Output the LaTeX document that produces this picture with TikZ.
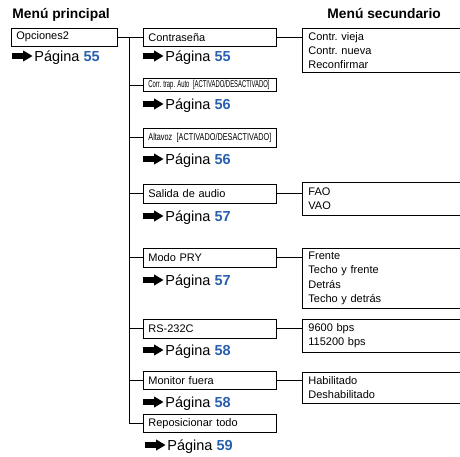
\documentclass[tikz,border=0pt]{standalone}
\usepackage{fontspec}
\setmainfont{Liberation Sans}
\usepackage{graphicx}
\frenchspacing
\definecolor{pgblue}{RGB}{40,95,175}
\tikzset{
  pgarrow/.pic={\fill (0,-2.8) -- (11,-2.8) -- (11,-5.6) -- (20.5,0) -- (11,5.6) -- (11,2.8) -- (0,2.8) -- cycle;}
}
% arrow + page reference: \pagref(name)(x,y){page}
\def\pagref(#1)(#2,#3)#4{%
  \pic at (#2,#3) {pgarrow};
  \node[pgref] (#1) at ({#2+22},{#3+5}) {Página \textcolor{pgblue}{\textbf{#4}}};}
\def\narrow#1#2{\scalebox{#1}[1]{\fontsize{10}{10}\selectfont #2}}

\begin{document}
\begin{tikzpicture}[x=1pt,y=-1pt,line width=0.8pt,
    title/.style={font=\fontsize{13.8}{16}\selectfont\bfseries,anchor=base west,inner sep=0},
    mainbox/.style={draw,anchor=north west,text width=123pt,inner xsep=5pt,inner ysep=0pt,
      minimum height=18.5,align=left,font=\fontsize{11}{13}\selectfont},
    secbox/.style={draw,anchor=north west,text width=160pt,inner xsep=6pt,inner ysep=0pt,
      align=left,font=\fontsize{11}{14.3}\selectfont},
    pgref/.style={anchor=base west,inner sep=0,font=\fontsize{14.5}{17}\selectfont}]
  \useasboundingbox (0,0) rectangle (460,456);

  %%%%% headings %%%%%
  \node[title] (hmain) at (12,18.3) {Menú principal};
  \node[title] (hsec) at (327,18) {Menú secundario};

  %%%%% main menu %%%%%
  \node[mainbox,text width=96pt,minimum height=17.5] (opc) at (11,28) {Opciones2};
  \pagref(popc)(12,56){55}

  %%%%% items %%%%%
  \node[mainbox,minimum height=17.5] (b1) at (143,28) {Contraseña};
  \pagref(p1)(143,56){55}
  \node[mainbox,minimum height=13] (b2) at (143,78) {\narrow{0.59}{Corr. trap. Auto\hspace{0.6em}[ACTIVADO/DESACTIVADO]}};
  \pagref(p2)(143,104){56}
  \node[mainbox] (b3) at (143,128) {\narrow{0.73}{Altavoz\hspace{0.6em}[ACTIVADO/DESACTIVADO]}};
  \pagref(p3)(143,159){56}
  \node[mainbox] (b4) at (143,184) {Salida de audio};
  \pagref(p4)(143,216){57}
  \node[mainbox] (b5) at (143,248) {Modo PRY};
  \pagref(p5)(143,280){57}
  \node[mainbox] (b6) at (143,319) {RS-232C};
  \pagref(p6)(143,350){58}
  \node[mainbox,minimum height=18] (b7) at (143,371) {Monitor fuera};
  \pagref(p7)(143,402){58}
  \node[mainbox,minimum height=18] (b8) at (143,414) {Reposicionar todo};
  \pagref(p8)(145,445){59}

  %%%%% secondary menus %%%%%
  \node[secbox,minimum height=44] (s1) at (302,28) {Contr. vieja\\Contr. nueva\\Reconfirmar};
  \node[secbox,minimum height=33] (s4) at (302,182) {FAO\\VAO};
  \node[secbox,minimum height=60] (s5) at (302,248) {Frente\\Techo y frente\\Detrás\\Techo y detrás};
  \node[secbox,minimum height=33] (s6) at (302,319) {9600 bps\\115200 bps};
  \node[secbox,minimum height=31] (s7) at (302,372) {Habilitado\\Deshabilitado};

  %%%%% tree lines %%%%%
  \coordinate (tr) at (129,0);
  \draw (opc.east) -- (b1.west);
  \draw (b1.west -| tr) |- (b8.west);
  \foreach \b in {b2,b3,b4,b5,b6,b7}
    \draw (\b.west -| tr) -- (\b.west);
  \foreach \b/\s in {b1/s1,b4/s4,b5/s5,b6/s6,b7/s7}
    \draw (\b.east) -- (\b.east -| \s.west);
\end{tikzpicture}
\end{document}
